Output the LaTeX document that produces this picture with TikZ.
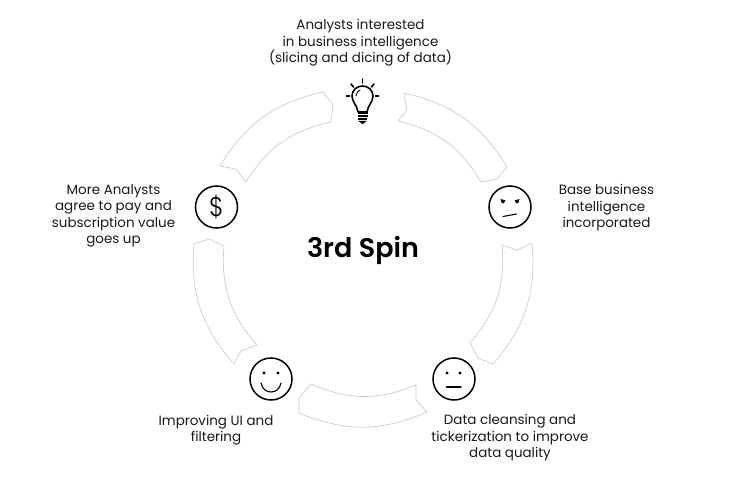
\documentclass[tikz,border=0pt]{standalone}
\usepackage{fontspec}
\setmainfont{Poppins}
\newfontfamily\titlefont{Poppins SemiBold}
\newfontfamily\dollarfont{Poppins Light}
\tikzset{x=1pt,y=-1pt,
  blockarrow/.style={draw=black!22,line width=0.6pt,line join=round,fill=white},
  facecircle/.style={circle,draw=black,line width=1.5pt,minimum size=42pt,inner sep=0pt,fill=white},
  feature/.style={line width=1.1pt,line cap=round,black},
  eye/.style={circle,fill=black,inner sep=0pt,minimum size=3.4pt},
  caption/.style={align=center,font=\fontsize{13.45}{16.4}\selectfont,inner sep=0pt,text=black!90},
  bulbline/.style={line width=1.6pt,black,line cap=round,line join=round},
}
\begin{document}
\begin{tikzpicture}
\useasboundingbox (0,0) rectangle (740,495);
\fill[white] (0,0) rectangle (740,495);

% block arrows
\draw[blockarrow] (323,92) -- (333,105) -- (331,122) to[bend right=23] (246,182) -- (236,169) -- (220,166) to[bend left=23] cycle;
\draw[blockarrow] (404,93) -- (407,110) -- (398,121) to[bend left=23] (481,182) -- (497,179) -- (507,167) to[bend right=23] cycle;
\draw[blockarrow] (502,245) -- (517,250) -- (532,243) to[bend left=23] (493,364) -- (478,358) -- (470,343) to[bend right=23] cycle;
\draw[blockarrow] (416,385) -- (416,400) -- (427,412) to[bend left=23] (299,413) -- (299,398) -- (311,384) to[bend right=23] cycle;
\draw[blockarrow] (194,244) -- (209,239) -- (224,246) to[bend right=23] (257,345) -- (241,351) -- (234,364) to[bend left=23] cycle;

% dollar
\node[facecircle] (dollar) at (216.5,207) {};
\node[font=\fontsize{27}{27}\dollarfont,inner sep=0pt,xscale=0.9] (dollarsign) at (216.5,206.5) {\$};

% sceptical face
\node[facecircle] (sceptic) at (510,207) {};
\fill (500.5,199) -- (505.5,200.5) -- (503.5,203.5) -- (501.5,202.5) -- cycle;
\fill (519.5,199) -- (514.5,200.5) -- (516.5,203.5) -- (518.5,202.5) -- cycle;
\draw[feature] (503,216.5) -- (516.5,214);

% neutral face
\node[facecircle] (neutral) at (454,379) {};
\node[eye] (neutrall) at (447,373) {};
\node[eye] (neutralr) at (460,373) {};
\draw[feature] (446.5,387) -- (461,387);

% smiling face
\node[facecircle] (smile) at (271,379) {};
\node[eye] (smilel) at (264,373) {};
\node[eye] (smiler) at (278,373) {};
\draw[feature] (261,383) .. controls (263,395) and (279,395) .. (281,383);

% bulb
\draw[bulbline] (358,112) .. controls (357,105) and (352,102) .. (352,96)
  .. controls (352,90) and (357,86) .. (362.5,86)
  .. controls (368,86) and (373,90) .. (373,96)
  .. controls (373,102) and (368,105) .. (367,112) -- cycle;
\draw[line width=0.9pt,line cap=round] (356,96) .. controls (356,93) and (358,91) .. (360,90);
\fill (357.5,112) rectangle (367.5,114);
\fill (357.5,115) rectangle (367.5,117);
\fill (358,118) rectangle (367,120);
\draw[line width=1.2pt,line cap=round] (360,121.5) .. controls (361,124) and (364,124) .. (365,121.5) -- cycle;
\draw[bulbline] (362.5,79) -- (362.5,83);
\draw[bulbline] (351,84) -- (353.5,87);
\draw[bulbline] (374,84) -- (371.5,87);
\draw[bulbline] (346.5,96) -- (349.5,96);
\draw[bulbline] (375.5,96) -- (378.5,96);

% texts
\node[caption] (top) at (360.5,43) {Analysts interested\\in business intelligence\\(slicing and dicing of data)};
\node[caption] (basebi) at (606.5,208) {Base business\\intelligence\\incorporated};
\node[caption] (clean) at (510,438) {Data cleansing and\\tickerization to improve\\data quality};
\node[caption] (ui) at (216,430) {Improving UI and\\filtering};
\node[caption] (more) at (113.5,216) {More Analysts\\agree to pay and\\subscription value\\goes up};
\node[font=\fontsize{27}{29}\titlefont,inner sep=0pt] (title) at (363,250) {3rd Spin};
\end{tikzpicture}
\end{document}
